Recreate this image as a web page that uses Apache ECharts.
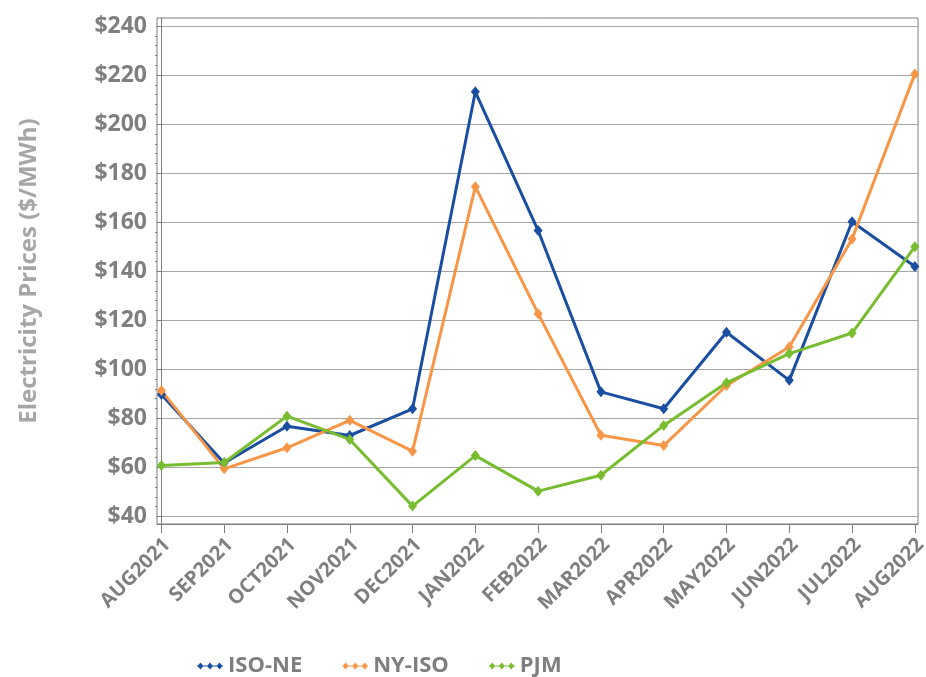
<!DOCTYPE html>
<html>
<head>
<meta charset="utf-8">
<script src="https://cdn.jsdelivr.net/npm/echarts@6/dist/echarts.min.js"></script>
<style>html,body{margin:0;padding:0;background:#fff}#c{width:926px;height:677px}</style>
</head>
<body>
<div id="c"></div>
<script>
var months = ['AUG2021','SEP2021','OCT2021','NOV2021','DEC2021','JAN2022','FEB2022','MAR2022','APR2022','MAY2022','JUN2022','JUL2022','AUG2022'];
var isoNe = [89.7, 61.8, 76.8, 73.0, 83.9, 213.2, 156.6, 90.8, 83.9, 115.1, 95.5, 160.2, 141.9];
var nyIso = [91.4, 59.4, 68.0, 79.2, 66.6, 174.5, 122.7, 73.1, 68.9, 93.4, 109.1, 153.2, 220.5];
var pjm = [60.8, 62.0, 80.9, 71.4, 44.2, 64.8, 50.3, 56.8, 77.1, 94.5, 106.4, 114.8, 150.0];
var yTicks = [40, 60, 80, 100, 120, 140, 160, 180, 200, 220, 240];
var yMinorTicks = [];
for (var i = 0; i < yTicks.length - 1; i++) {
  for (var k = 1; k < 5; k++) yMinorTicks.push(yTicks[i] + k * 4);
}
var xIdx = months.map(function (m, i) { return i; });
function pairs(arr) { return arr.map(function (v, i) { return [i, v]; }); }

var FONT = 'Open Sans';
var chart = echarts.init(document.getElementById('c'), null, {renderer: 'canvas'});
var diamondIcon = 'path://M0 3.3H30V4.7H0Z M4 0L7.5 4L4 8L0.5 4Z M15 0L18.5 4L15 8L11.5 4Z M26 0L29.5 4L26 8L22.5 4Z';
function mkSeries(name, arr, color) {
  return {
    name: name, type: 'line', data: pairs(arr),
    symbol: 'diamond', symbolSize: [9, 11],
    lineStyle: {width: 3, color: color},
    itemStyle: {color: color},
    z: 3
  };
}
chart.setOption({
  animation: false,
  textStyle: {fontFamily: FONT},
  grid: {left: 157, right: 8, top: 18, bottom: 153, show: true, borderColor: '#7f7f7f', borderWidth: 1,
         containLabel: false, outerBoundsMode: 'none'},
  legend: {
    left: 192, top: 650,
    itemWidth: 26, itemHeight: 7, itemGap: 40,
    icon: diamondIcon,
    textStyle: {fontFamily: FONT, fontSize: 22, fontWeight: 'bold', color: '#7f7f7f'},
    data: ['ISO-NE', 'NY-ISO', 'PJM']
  },
  xAxis: {
    type: 'value', min: -0.07, max: 12.05,
    axisLine: {show: true, lineStyle: {color: '#7f7f7f', width: 1}},
    axisTick: {show: true, length: 9, customValues: xIdx, lineStyle: {color: '#7f7f7f'}},
    axisLabel: {
      customValues: xIdx, rotate: 45, margin: 12,
      formatter: function (v) { return '{m|' + months[Math.round(v)] + '}'; },
      rich: {m: {fontFamily: FONT, fontSize: 20, fontWeight: 'bold', color: '#7f7f7f', padding: [16, 0, 0, 0]}},
      fontFamily: FONT, fontSize: 20, fontWeight: 'bold', color: '#7f7f7f'
    },
    splitLine: {show: false}
  },
  yAxis: [{
    type: 'value', min: 36.9, max: 243.3,
    name: 'Electricity Prices ($/MWh)', nameLocation: 'middle', nameGap: 116,
    nameTextStyle: {fontFamily: FONT, fontSize: 24, fontWeight: 'bold', color: '#a6a6a6'},
    axisLine: {show: true, lineStyle: {color: '#7f7f7f', width: 1}},
    axisTick: {show: true, length: 5, customValues: yTicks, lineStyle: {color: '#7f7f7f'}},
    axisLabel: {
      customValues: yTicks, margin: 10,
      formatter: function (v) { return '$' + v; },
      fontFamily: FONT, fontSize: 23, fontWeight: 'bold', color: '#7f7f7f'
    },
    splitLine: {show: true, lineStyle: {color: '#a6a6a6', width: 1}}
  }, {
    type: 'value', min: 36.9, max: 243.3, position: 'left',
    axisLine: {show: false},
    axisTick: {show: true, length: 2, customValues: yMinorTicks, lineStyle: {color: '#7f7f7f'}},
    axisLabel: {show: false},
    splitLine: {show: false}
  }],
  series: [
    mkSeries('ISO-NE', isoNe, '#1a4ea0'),
    mkSeries('NY-ISO', nyIso, '#f79646'),
    mkSeries('PJM', pjm, '#77bd2f')
  ]
});
</script>
</body>
</html>
